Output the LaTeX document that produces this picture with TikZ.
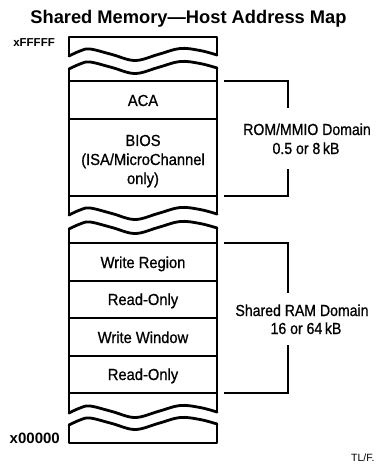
\documentclass[tikz,border=0pt]{standalone}
\usepackage{fontspec}
\setmainfont{Liberation Sans}
\newfontfamily\cellfont[FakeStretch=0.92,FakeBold=0.8]{Liberation Sans}
\newfontfamily\domfont[FakeStretch=0.88,FakeBold=0.8]{Liberation Sans}
\newcommand\wavyline[1]{\draw[colline] plot[smooth,tension=0.6] coordinates {(69,#1) (80,#1-5) (90,#1-7) (112,#1-1.5) (135,#1+4.5) (158,#1-1.5) (180,#1-7.5) (200,#1-5.5) (217,#1-1)};}
\begin{document}
\begin{tikzpicture}[x=1pt,y=-1pt,
  colline/.style={line width=2.8pt,line cap=round,line join=round},
  sepline/.style={line width=2.4pt,line cap=round},
  brackline/.style={line width=2pt,line cap=rect,line join=miter},
  celltext/.style={inner sep=0pt,anchor=base,font=\cellfont\fontsize{16}{18}\selectfont},
  domtext/.style={inner sep=0pt,anchor=base,font=\domfont\fontsize{16}{18}\selectfont},
  addr/.style={inner sep=0pt,anchor=base east,font=\bfseries}]
\useasboundingbox (0,0) rectangle (380,465);
% title
\node[inner sep=0pt,anchor=base,font=\bfseries\fontsize{18.3}{20}\selectfont] (title) at (188.5,24) {Shared Memory—Host Address Map};
% top piece
\draw[colline] (217,55) -- (217,37) -- (69,37) -- (69,56);
\wavyline{56}
% second piece
\wavyline{69}
\draw[colline] (69,69) -- (69,215);
\draw[colline] (217,68) -- (217,214);
\wavyline{215}
% third piece
\wavyline{229}
\draw[colline] (69,229) -- (69,413);
\draw[colline] (217,228) -- (217,412);
\wavyline{413}
% bottom piece
\draw[colline] (217,424) -- (217,443) -- (69,443) -- (69,425);
\wavyline{425}
% cell separators
\foreach \yy in {81,119,196,243,281,318,356,393}
  \draw[sepline] (69,\yy) -- (217,\yy);
% cell texts
\node[celltext] (aca) at (143,106) {ACA};
\node[celltext] (bios1) at (143,146) {BIOS};
\node[celltext] (bios2) at (143,165) {(ISA/MicroChannel};
\node[celltext] (bios3) at (143,184) {only)};
\node[celltext] (wreg) at (143,268) {Write Region};
\node[celltext] (ro1) at (143,305) {Read-Only};
\node[celltext] (wwin) at (143,343) {Write Window};
\node[celltext] (ro2) at (143,380) {Read-Only};
% address labels
\node[addr,font=\bfseries\fontsize{11.5}{13}\selectfont] (hi) at (55,47) {xFFFFF};
\node[addr,font=\bfseries\fontsize{15}{17}\selectfont] (lo) at (60,443) {x00000};
% ROM/MMIO bracket
\coordinate (r1) at (225,81);
\coordinate (r2) at (288,81);
\coordinate (r3) at (288,107);
\coordinate (r4) at (288,170);
\coordinate (r5) at (288,196);
\coordinate (r6) at (225,196);
\draw[brackline] (r1) -- (r2) -- (r3);
\draw[brackline] (r4) -- (r5) -- (r6);
\node[domtext] (rom1) at (307,135) {ROM/MMIO Domain};
\node[domtext] (rom2) at (306,154) {0.5 or 8\,kB};
% Shared RAM bracket
\coordinate (s1) at (225,243);
\coordinate (s2) at (288,243);
\coordinate (s3) at (288,292);
\coordinate (s4) at (288,346);
\coordinate (s5) at (288,393);
\coordinate (s6) at (225,393);
\draw[brackline] (s1) -- (s2) -- (s3);
\draw[brackline] (s4) -- (s5) -- (s6);
\node[domtext] (ram1) at (302,316) {Shared RAM Domain};
\node[domtext] (ram2) at (306,334) {16 or 64\,kB};
% figure code
\node[inner sep=0pt,anchor=base west,font=\fontsize{10.5}{12}\selectfont] (tl) at (351,461) {TL/F.};
\end{tikzpicture}
\end{document}
